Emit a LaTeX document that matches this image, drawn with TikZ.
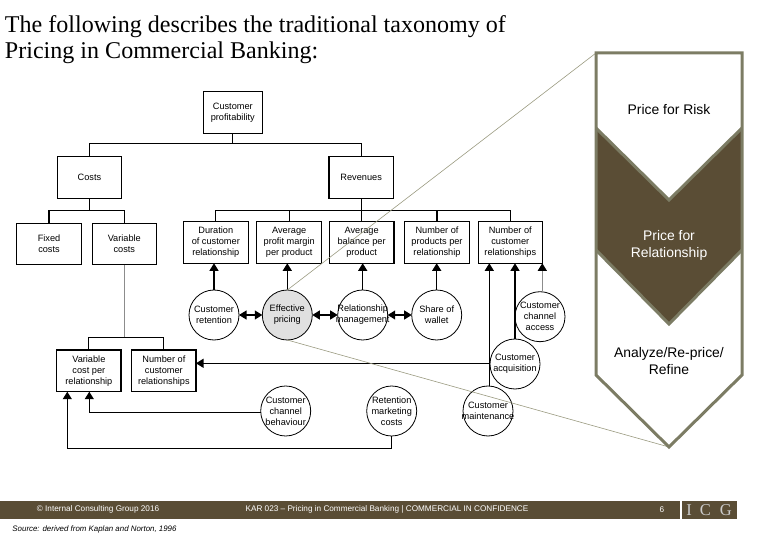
\documentclass[tikz,border=0pt]{standalone}
\usepackage{fontspec}
\setmainfont{Liberation Serif}
\setsansfont{Liberation Sans}
\usetikzlibrary{positioning, arrows.meta}
\definecolor{bandbrown}{HTML}{5A4D35}
\definecolor{edgeolive}{HTML}{7C7C64}
\definecolor{thinolive}{HTML}{9A9A80}

\begin{document}
\begin{tikzpicture}[
                    x=1pt, y=-1pt,
                    every path/.style={color=black, line width=1.1pt},
                    every node/.style={color=black, font=\sffamily\fontsize{9.2}{11}\selectfont, align=center, inner sep=0pt, outer sep=0pt},
                    box/.style={draw, minimum height=41.6pt, anchor=north west},
                    blob/.style={draw, circle, line width=0.8pt, minimum size=50pt, inner sep=-9pt, fill=white},
                    arrowline/.style={-{Triangle[length=7.5pt,width=9pt]}},
                    twoway/.style={{Triangle[length=7.5pt,width=9pt]}-{Triangle[length=7.5pt,width=9pt]}},
                    rim/.style={color=edgeolive, line width=3pt, line join=miter},
                    thin link/.style={color=thinolive, line width=0.6pt},
                    big label/.style={font=\sffamily\fontsize{13.9}{17}\selectfont},
                    band label/.style={color=white, font=\sffamily\fontsize{8.2}{9}\selectfont}
                  ]
                  \useasboundingbox (0,0) rectangle (780,540);

                  % --- Title ---
                  \node[anchor=north west, align=left, font=\rmfamily\fontsize{24.05}{26}\selectfont] (title) at (5,16)
                    {The following describes the traditional taxonomy of\\Pricing in Commercial Banking:};

                  % --- Boxes ---
                  \node[box, minimum width=59pt] (profit) at (203.3,91.7) {Customer\\profitability};
                  \node[box, minimum width=64.4pt] (costs) at (57.3,156.7) {Costs};
                  \node[box, minimum width=64.4pt] (revenues) at (329,156.7) {Revenues};
                  \node[box, minimum width=64.6pt] (fixed) at (16.7,223.3) {Fixed\\costs};
                  \node[box, minimum width=64pt] (variable) at (92.3,223.3) {Variable\\costs};
                  \node[box, minimum width=65pt] (duration) at (183.3,221.7) {Duration\\of customer\\relationship};
                  \node[box, minimum width=65pt] (margin) at (256.7,221.7) {Average\\profit margin\\per product};
                  \node[box, minimum width=64.7pt] (balance) at (329.3,221.7) {Average\\balance per\\product};
                  \node[box, minimum width=64.6pt] (products) at (404.7,221.7) {Number of\\products per\\relationship};
                  \node[box, minimum width=64pt] (relations) at (478.3,221.7) {Number of\\customer\\relationships};
                  \node[box, minimum width=64.3pt] (unitcost) at (56.7,350) {Variable\\cost per\\relationship};
                  \node[box, minimum width=64.3pt] (unitcount) at (131.7,350) {Number of\\customer\\relationships};

                  \coordinate (chevtop) at (596,53);
                  \coordinate (chevtip) at (669,447);

                  % --- Tree lines ---
                  \coordinate (busa) at (profit.south |- 0,143.3);
                  \coordinate (busb) at (costs.south |- 0,210.7);
                  \coordinate (busc) at (revenues.south |- 0,210.5);
                  \coordinate (busd) at (variable.south |- 0,337.7);
                  \draw (profit.south) -- (busa);
                  \draw (costs.north) |- (busa) -| (revenues.north);
                  \draw (costs.south) -- (busb);
                  \draw (fixed.north) |- (busb) -| (variable.north);
                  \draw (revenues.south) -- (busc);
                  \draw (duration.north) |- (busc) -| (relations.north);
                  \draw (margin.north) -- (margin.north |- busc);
                  \draw (balance.north) -- (balance.north |- busc);
                  \draw (products.north) -- (products.north |- busc);
                  \draw[color=black!45] (variable.south) -- (busd);
                  \draw (unitcost.north) |- (busd) -| (unitcount.north);

                  % --- Circles ---
                  \node[blob] (retention) at (214,315) {Customer\\retention};
                  \node[blob, fill=black!12] (pricing) at (287.3,315) {Effective\\pricing};
                  \node[blob] (management) at (362.7,315) {Relationship\\management};
                  \node[blob] (wallet) at (436.7,315) {Share of\\wallet};
                  \node[blob] (access) at (540,316.7) {Customer\\channel\\access};
                  \node[blob] (acquisition) at (515,364) {Customer\\acquisition};
                  \node[blob] (maintenance) at (488,411) {Customer\\maintenance};
                  \node[blob] (behaviour) at (285.7,411) {Customer\\channel\\behaviour};
                  \node[blob] (marketing) at (391.7,411) {Retention\\marketing\\costs};

                  % --- Arrows ---
                  \draw[arrowline] (retention.north) -- (retention.north |- duration.south);
                  \draw[arrowline] (pricing.north) -- (pricing.north |- margin.south);
                  \draw[arrowline] (management.north) -- (management.north |- balance.south);
                  \draw[arrowline] (wallet.north) -- (wallet.north |- products.south);
                  \draw[arrowline] (maintenance.north) ++(1.3,0) coordinate (maintop) -- (maintop |- relations.south);
                  \draw[arrowline] (acquisition.north) -- (acquisition.north |- relations.south);
                  \draw[color=black!45, -{Triangle[length=7.5pt,width=9pt,black]}] (access.north) ++(2.3,0) coordinate (accesstop) -- (accesstop |- relations.south);
                  \draw[twoway] (retention) -- (pricing);
                  \draw[twoway] (pricing) -- (management);
                  \draw[twoway] (management) -- (wallet);
                  \draw[arrowline] (maintop |- 0,363.3) -- (unitcount.east |- 0,363.3);
                  \draw[arrowline] (behaviour.west) ++(0,1.7) coordinate (behaveleft) -| (89.3,391.7);
                  \draw[arrowline] (marketing.south) -- (marketing.south |- 0,448.7) -| (67.3,391.7);

                  % --- Thin links to the chevrons ---
                  \draw[thin link] (pricing.north) -- (chevtop);
                  \draw[thin link] (pricing.south) -- (chevtip);

                  % --- Chevrons ---
                  \fill[bandbrown] (596,128) -- (669,200) -- (742,128) -- (742,250) -- (669,324) -- (596,250) -- cycle;
                  \draw[rim] (596,128) -- (669,200) -- (742,128);
                  \draw[rim] (596,250) -- (669,324) -- (742,250);
                  \draw[rim] (chevtop) -- (742,53) -- (742,375) -- (chevtip) -- (596,375) -- cycle;
                  \node[big label] (risk) at (669,110) {Price for Risk};
                  \node[big label, color=white] (relation) at (669,245.5) {Price for\\Relationship};
                  \node[big label] (refine) at (669,361.5) {Analyze/Re-price/\\Refine};

                  % --- Footer ---
                  \fill[bandbrown] (0,501) rectangle (680,519);
                  \fill[bandbrown] (682.3,501) rectangle (736.7,519);
                  \node[band label] (copyright) at (98,509.5) {© Internal Consulting Group 2016};
                  \node[band label] (confidence) at (387,509.5) {KAR 023 – Pricing in Commercial Banking | COMMERCIAL IN CONFIDENCE};
                  \node[band label] (pagenumber) at (662,509.5) {6};
                  \node[color=white!80!black, font=\rmfamily\fontsize{16.5}{18}\selectfont] (icg) at (709,510) {I\hspace{8pt}C\hspace{9pt}G};
                  \node[font=\sffamily\itshape\fontsize{7.9}{9}\selectfont] (source) at (94.5,529.5) {Source: derived from Kaplan and Norton, 1996};
                \end{tikzpicture}
\end{document}
